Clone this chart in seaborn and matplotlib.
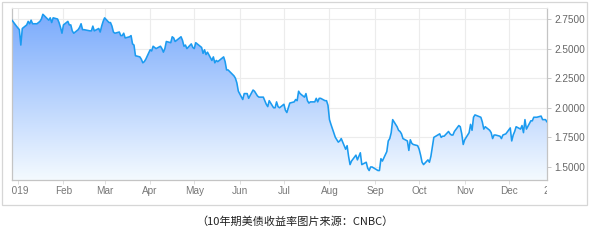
import numpy as np
import pandas as pd
import matplotlib
matplotlib.use("Agg")
import matplotlib.pyplot as plt
import matplotlib.dates as mdates
from matplotlib.transforms import Bbox, TransformedBbox
from matplotlib.patches import Rectangle
import seaborn as sns

# ---- data: 10-year US Treasury yield, late Dec 2018 - Dec 2019 ----
dates = [
    "2018-12-28", "2018-12-31", "2019-01-02", "2019-01-03", "2019-01-04", "2019-01-07", "2019-01-08",
    "2019-01-09", "2019-01-10", "2019-01-11", "2019-01-14", "2019-01-15", "2019-01-16", "2019-01-17",
    "2019-01-18", "2019-01-22", "2019-01-23", "2019-01-24", "2019-01-25", "2019-01-28", "2019-01-29",
    "2019-01-30", "2019-01-31", "2019-02-01", "2019-02-04", "2019-02-05", "2019-02-06", "2019-02-07",
    "2019-02-08", "2019-02-11", "2019-02-12", "2019-02-13", "2019-02-14", "2019-02-15", "2019-02-19",
    "2019-02-20", "2019-02-21", "2019-02-22", "2019-02-25", "2019-02-26", "2019-02-27", "2019-02-28",
    "2019-03-01", "2019-03-04", "2019-03-05", "2019-03-06", "2019-03-07", "2019-03-08", "2019-03-11",
    "2019-03-12", "2019-03-13", "2019-03-14", "2019-03-15", "2019-03-18", "2019-03-19", "2019-03-20",
    "2019-03-21", "2019-03-22", "2019-03-25", "2019-03-26", "2019-03-27", "2019-03-28", "2019-03-29",
    "2019-04-01", "2019-04-02", "2019-04-03", "2019-04-04", "2019-04-05", "2019-04-08", "2019-04-09",
    "2019-04-10", "2019-04-11", "2019-04-12", "2019-04-15", "2019-04-16", "2019-04-17", "2019-04-18",
    "2019-04-22", "2019-04-23", "2019-04-24", "2019-04-25", "2019-04-26", "2019-04-29", "2019-04-30",
    "2019-05-01", "2019-05-02", "2019-05-03", "2019-05-06", "2019-05-07", "2019-05-08", "2019-05-09",
    "2019-05-10", "2019-05-13", "2019-05-14", "2019-05-15", "2019-05-16", "2019-05-17", "2019-05-20",
    "2019-05-21", "2019-05-22", "2019-05-23", "2019-05-24", "2019-05-28", "2019-05-29", "2019-05-30",
    "2019-05-31", "2019-06-03", "2019-06-04", "2019-06-05", "2019-06-06", "2019-06-07", "2019-06-10",
    "2019-06-11", "2019-06-12", "2019-06-13", "2019-06-14", "2019-06-17", "2019-06-18", "2019-06-19",
    "2019-06-20", "2019-06-21", "2019-06-24", "2019-06-25", "2019-06-26", "2019-06-27", "2019-06-28",
    "2019-07-01", "2019-07-02", "2019-07-03", "2019-07-05", "2019-07-08", "2019-07-09", "2019-07-10",
    "2019-07-11", "2019-07-12", "2019-07-15", "2019-07-16", "2019-07-17", "2019-07-18", "2019-07-19",
    "2019-07-22", "2019-07-23", "2019-07-24", "2019-07-25", "2019-07-26", "2019-07-29", "2019-07-30",
    "2019-07-31", "2019-08-01", "2019-08-02", "2019-08-05", "2019-08-06", "2019-08-07", "2019-08-08",
    "2019-08-09", "2019-08-12", "2019-08-13", "2019-08-14", "2019-08-15", "2019-08-16", "2019-08-19",
    "2019-08-20", "2019-08-21", "2019-08-22", "2019-08-23", "2019-08-26", "2019-08-27", "2019-08-28",
    "2019-08-29", "2019-08-30", "2019-09-03", "2019-09-04", "2019-09-05", "2019-09-06", "2019-09-09",
    "2019-09-10", "2019-09-11", "2019-09-12", "2019-09-13", "2019-09-16", "2019-09-17", "2019-09-18",
    "2019-09-19", "2019-09-20", "2019-09-23", "2019-09-24", "2019-09-25", "2019-09-26", "2019-09-27",
    "2019-09-30", "2019-10-01", "2019-10-02", "2019-10-03", "2019-10-04", "2019-10-07", "2019-10-08",
    "2019-10-09", "2019-10-10", "2019-10-11", "2019-10-15", "2019-10-16", "2019-10-17", "2019-10-18",
    "2019-10-21", "2019-10-22", "2019-10-23", "2019-10-24", "2019-10-25", "2019-10-28", "2019-10-29",
    "2019-10-30", "2019-10-31", "2019-11-01", "2019-11-04", "2019-11-05", "2019-11-06", "2019-11-07",
    "2019-11-08", "2019-11-12", "2019-11-13", "2019-11-14", "2019-11-15", "2019-11-18", "2019-11-19",
    "2019-11-20", "2019-11-21", "2019-11-22", "2019-11-25", "2019-11-26", "2019-11-27", "2019-11-29",
    "2019-12-02", "2019-12-03", "2019-12-04", "2019-12-05", "2019-12-06", "2019-12-09", "2019-12-10",
    "2019-12-11", "2019-12-12", "2019-12-13", "2019-12-16", "2019-12-17", "2019-12-18", "2019-12-19",
    "2019-12-20", "2019-12-23", "2019-12-24", "2019-12-26", "2019-12-27",
]
yields = [
    2.74, 2.69, 2.66, 2.53, 2.67, 2.70, 2.73,
    2.71, 2.74, 2.71, 2.71, 2.72, 2.73, 2.75,
    2.79, 2.74, 2.76, 2.72, 2.76, 2.75, 2.72,
    2.68, 2.63, 2.70, 2.73, 2.70, 2.70, 2.65,
    2.63, 2.66, 2.68, 2.71, 2.66, 2.66, 2.65,
    2.65, 2.69, 2.65, 2.67, 2.64, 2.69, 2.73,
    2.76, 2.72, 2.72, 2.69, 2.64, 2.63, 2.64,
    2.61, 2.61, 2.63, 2.59, 2.60, 2.61, 2.54,
    2.53, 2.44, 2.43, 2.41, 2.38, 2.39, 2.41,
    2.49, 2.48, 2.52, 2.51, 2.50, 2.52, 2.50,
    2.47, 2.50, 2.56, 2.55, 2.60, 2.59, 2.56,
    2.60, 2.57, 2.52, 2.53, 2.50, 2.54, 2.51,
    2.50, 2.55, 2.54, 2.51, 2.46, 2.49, 2.45,
    2.47, 2.40, 2.43, 2.38, 2.40, 2.39, 2.42,
    2.43, 2.39, 2.32, 2.32, 2.27, 2.25, 2.21,
    2.14, 2.07, 2.12, 2.12, 2.12, 2.08, 2.15,
    2.14, 2.12, 2.10, 2.09, 2.09, 2.06, 2.03,
    2.01, 2.06, 2.00, 2.00, 2.05, 2.01, 2.00,
    2.03, 1.98, 1.96, 2.04, 2.05, 2.07, 2.06,
    2.14, 2.12, 2.09, 2.12, 2.06, 2.04, 2.05,
    2.05, 2.08, 2.05, 2.08, 2.08, 2.06, 2.06,
    2.02, 1.90, 1.86, 1.75, 1.73, 1.71, 1.72,
    1.74, 1.65, 1.68, 1.59, 1.52, 1.55, 1.60,
    1.56, 1.59, 1.62, 1.52, 1.54, 1.49, 1.47,
    1.50, 1.50, 1.47, 1.47, 1.57, 1.55, 1.63,
    1.72, 1.74, 1.79, 1.90, 1.84, 1.81, 1.80,
    1.78, 1.74, 1.72, 1.64, 1.73, 1.70, 1.69,
    1.68, 1.65, 1.60, 1.54, 1.52, 1.56, 1.54,
    1.59, 1.67, 1.75, 1.78, 1.75, 1.76, 1.76,
    1.80, 1.78, 1.77, 1.77, 1.80, 1.85, 1.84,
    1.78, 1.69, 1.73, 1.79, 1.86, 1.81, 1.92,
    1.94, 1.92, 1.88, 1.82, 1.84, 1.81, 1.79,
    1.74, 1.77, 1.77, 1.76, 1.74, 1.77, 1.78,
    1.83, 1.72, 1.77, 1.80, 1.84, 1.82, 1.85,
    1.79, 1.90, 1.82, 1.89, 1.89, 1.92, 1.92,
    1.92, 1.93, 1.90, 1.90, 1.88,
]
y_ticks = [1.50, 1.75, 2.00, 2.25, 2.50, 2.75]
y_tick_labels = ["1.5000", "1.7500", "2.0000", "2.2500", "2.5000", "2.7500"]
month_ticks = ["2019-01-01", "2019-02-01", "2019-03-01", "2019-04-01", "2019-05-01", "2019-06-01",
               "2019-07-01", "2019-08-01", "2019-09-01", "2019-10-01", "2019-11-01", "2019-12-01",
               "2020-01-01"]
month_labels = ["2019", "Feb", "Mar", "Apr", "May", "Jun", "Jul", "Aug", "Sep", "Oct", "Nov", "Dec", "2020"]
caption = "（10年期美债收益率图片来源：CNBC）"

df = pd.DataFrame({"date": pd.to_datetime(dates), "yield": yields})

sns.set_theme(style="white")
plt.rcParams["font.family"] = ["Liberation Sans", "DejaVu Sans"]

W, H = 589, 242
fig = plt.figure(figsize=(W / 100, H / 100), dpi=100)
fig.patch.set_facecolor("white")

# outer frame
fig.patches.append(Rectangle((2 / W, 1 - 205 / H), 585 / W, 203 / H, transform=fig.transFigure,
                             fill=False, edgecolor="#d6d6d6", linewidth=0.9))

ax = fig.add_axes([12 / W, 1 - 180 / H, 535 / W, 172 / H])
ax.set_facecolor("white")

y_lo, y_hi = 1.39, 2.843
x_lo = mdates.date2num(pd.Timestamp("2018-12-28"))
x_hi = mdates.date2num(pd.Timestamp("2019-12-27"))

# gradient fill under the curve
poly = ax.fill_between(df["date"], df["yield"], y_lo, color="none", linewidth=0)
grad = np.linspace(0, 1, 256).reshape(-1, 1)
top_c = np.array([118, 168, 252]) / 255
bot_c = np.array([244, 250, 255]) / 255
img = top_c[None, None, :] * (1 - grad[:, :, None]) + bot_c[None, None, :] * grad[:, :, None]
im = ax.imshow(img, extent=[x_lo, x_hi, y_lo, y_hi], aspect="auto", origin="upper", zorder=1)
path = poly.get_paths()[0]
im.set_clip_path(path, transform=ax.transData)

sns.lineplot(data=df, x="date", y="yield", ax=ax, color="#1b9bf0", linewidth=1.15, zorder=3)

ax.set_xlim(x_lo, x_hi)
ax.set_ylim(y_lo, y_hi)

# grid
ax.set_yticks(y_ticks)
ax.set_yticklabels(y_tick_labels)
tick_nums = [mdates.date2num(pd.Timestamp(d)) for d in month_ticks]
ax.set_xticks(tick_nums[:-1])
ax.set_xticklabels([""] * (len(tick_nums) - 1))
ax.grid(True, color="#ececec", linewidth=0.8, zorder=0)
ax.set_axisbelow(True)

ax.yaxis.tick_right()
ax.tick_params(axis="y", which="both", length=3, width=0.7, color="#c8c8c8",
               labelsize=7.2, labelcolor="#666666", pad=2, right=True, left=False)
ax.tick_params(axis="x", which="both", length=3, width=0.7, color="#dddddd",
               labelsize=7.2, labelcolor="#777777", pad=2, bottom=True)
ax.set_xlabel("")
ax.set_ylabel("")

for side in ["left", "bottom", "right"]:
    ax.spines[side].set_color("#c4c4c4")
    ax.spines[side].set_linewidth(0.9)
ax.spines["top"].set_color("#e6e6e6")
ax.spines["top"].set_linewidth(0.7)

# month labels clipped to the plot's horizontal extent
clip_bb = TransformedBbox(Bbox([[0, -0.5], [1, 1]]), ax.transAxes)
lab_tr = matplotlib.transforms.blended_transform_factory(ax.transData, ax.transAxes)
for xn, lab in zip(tick_nums, month_labels):
    t = ax.text(xn, -0.035, lab, transform=lab_tr, ha="center", va="top",
                fontsize=7.2, color="#777777", clip_on=True)
    t.set_clip_box(clip_bb)

fig.text(0.5, 1 - 222 / H, caption, ha="center", va="center", fontsize=8,
         color="#222222", family=["Noto Sans CJK SC", "DejaVu Sans"])

fig.savefig("out.png", dpi=100)
